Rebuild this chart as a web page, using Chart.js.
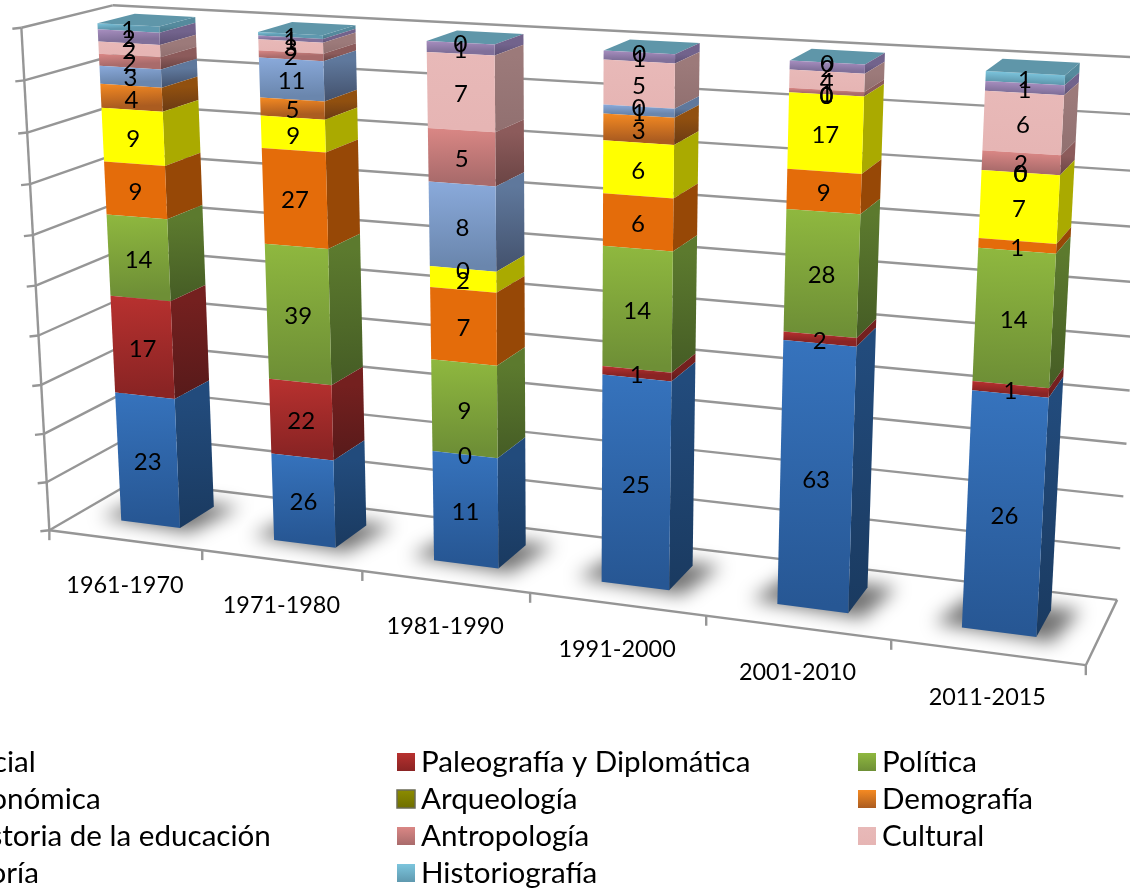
<!DOCTYPE html>
<html>
<head>
<meta charset="utf-8">
<title>Chart</title>
<script src="https://cdn.jsdelivr.net/npm/chart.js@4/dist/chart.umd.js"></script>
<style>
    html, body { margin: 0; padding: 0; background: #fff; overflow: hidden; }
    canvas { display: block; }
</style>
</head>
<body>
<canvas id="chart" width="1130" height="889"></canvas>
<script>
const categories = ['1961-1970', '1971-1980', '1981-1990', '1991-2000', '2001-2010', '2011-2015'];

const social = [23, 26, 11, 25, 63, 26];
const paleografia = [17, 22, 0, 1, 2, 1];
const politica = [14, 39, 9, 14, 28, 14];
const economica = [9, 27, 7, 6, 9, 1];
const arqueologia = [9, 9, 2, 6, 17, 7];
const demografia = [4, 5, 0, 3, 0, 0];
const educacion = [3, 11, 8, 1, 0, 0];
const antropologia = [2, 2, 5, 0, 1, 2];
const cultural = [2, 3, 7, 5, 4, 6];
const teoria = [2, 1, 1, 1, 2, 1];
const historiografia = [1, 1, 0, 0, 0, 1];

const seriesNames = ['Social', 'Paleografía y Diplomática', 'Política', 'Económica', 'Arqueología', 'Demografía',
    'Historia de la educación', 'Antropología', 'Cultural', 'Teoría', 'Historiografía'];
const seriesValues = [social, paleografia, politica, economica, arqueologia, demografia,
    educacion, antropologia, cultural, teoria, historiografia];

// [front top, front bottom, side top, side bottom]
const seriesColors = [
    ['#3673bd', '#275794', '#224b7c', '#1a3a60'],
    ['#b8312f', '#8a2424', '#74201f', '#571a1a'],
    ['#8fb83f', '#6e8f36', '#5c7a2e', '#455c25'],
    ['#e46c0a', '#e46c0a', '#974806', '#974806'],
    ['#ffff00', '#ffff00', '#aaaa00', '#aaaa00'],
    ['#f58a22', '#ab5c20', '#91500f', '#6a3a14'],
    ['#8aaadb', '#6a86ad', '#5f789c', '#43516c'],
    ['#da8785', '#a96b6b', '#8c5b5b', '#6a4444'],
    ['#e8b9b8', '#e6b5b4', '#9c7a7a', '#917070'],
    ['#a78ebf', '#80709a', '#72638c', '#5d5074'],
    ['#7cc5dd', '#5f99af', '#558a9d', '#467485']
];
const legendSwatches = [
    ['#3673bd', '#275794'], ['#b8312f', '#8a2424'], ['#8fb83f', '#6e8f36'], ['#e46c0a', '#e46c0a'],
    ['#8c8c00', '#6f6f00'], ['#f58a22', '#ab5c20'], ['#8aaadb', '#6a86ad'], ['#da8785', '#a96b6b'],
    ['#e8b9b8', '#e6b5b4'], ['#a78ebf', '#80709a'], ['#7cc5dd', '#5f99af']
];
const topFaceColor = '#5f96a9';
const gridColor = '#969696';

// picture position of the 3d box corners: [x, y, z, px, py], x along categories, y up, z towards the back wall
const boxCorners = [
    [0, 0, 0, 50, 530], [1, 0, 0, 1086, 666], [0, 1, 0, 21, 28], [1, 1, 0, 1118, 87],
    [0, 0, 1, 134, 481], [1, 0, 1, 1117, 599], [0, 1, 1, 113, 5], [1, 1, 1, 1150, 59]
];
const barFront = 0.3;
const barBack = 0.72;

function solveLinear(a, b) {
    const n = b.length;
    for (let i = 0; i < n; i++) {
        let best = i;
        for (let r = i + 1; r < n; r++) if (Math.abs(a[r][i]) > Math.abs(a[best][i])) best = r;
        [a[i], a[best]] = [a[best], a[i]];
        [b[i], b[best]] = [b[best], b[i]];
        for (let r = i + 1; r < n; r++) {
            const f = a[r][i] / a[i][i];
            for (let c = i; c < n; c++) a[r][c] -= f * a[i][c];
            b[r] -= f * b[i];
        }
    }
    const out = new Array(n).fill(0);
    for (let i = n - 1; i >= 0; i--) {
        let s = b[i];
        for (let c = i + 1; c < n; c++) s -= a[i][c] * out[c];
        out[i] = s / a[i][i];
    }
    return out;
}

function fitCamera(points) {
    const rows = [], rhs = [];
    points.forEach(([x, y, z, px, py]) => {
        const u = px / 1000, v = py / 1000;
        rows.push([x, y, z, 1, 0, 0, 0, 0, -u * x, -u * y, -u * z]); rhs.push(u);
        rows.push([0, 0, 0, 0, x, y, z, 1, -v * x, -v * y, -v * z]); rhs.push(v);
    });
    const ata = [], atb = [];
    for (let i = 0; i < 11; i++) {
        ata.push([]);
        atb.push(rows.reduce((s, r, k) => s + r[i] * rhs[k], 0));
        for (let j = 0; j < 11; j++) ata[i].push(rows.reduce((s, r) => s + r[i] * r[j], 0));
    }
    return solveLinear(ata, atb);
}

const cam = fitCamera(boxCorners);

function project(x, y, z) {
    const w = cam[8] * x + cam[9] * y + cam[10] * z + 1;
    return [
        1000 * (cam[0] * x + cam[1] * y + cam[2] * z + cam[3]) / w,
        1000 * (cam[4] * x + cam[5] * y + cam[6] * z + cam[7]) / w
    ];
}

function quad(ctx, pts) {
    ctx.beginPath();
    pts.forEach((p, i) => i ? ctx.lineTo(p[0], p[1]) : ctx.moveTo(p[0], p[1]));
    ctx.closePath();
}

function fillFace(ctx, pts, top, bottom) {
    const g = ctx.createLinearGradient(pts[0][0], pts[0][1], pts[3][0], pts[3][1]);
    g.addColorStop(0, top);
    g.addColorStop(1, bottom);
    quad(ctx, pts);
    ctx.fillStyle = g;
    ctx.fill();
}

function barBox(el, area) {
    return {
        x0: (el.x - el.width / 2 - area.left) / area.width,
        x1: (el.x + el.width / 2 - area.left) / area.width,
        y0: (area.bottom - el.base) / area.height,
        y1: (area.bottom - el.y) / area.height
    };
}

// every bar of the chart is drawn as a box in the projected space
Chart.BarElement.prototype.draw = function (ctx) {
    const b = barBox(this, this.plotArea);
    const c = seriesColors[this.seriesIndex];
    fillFace(ctx, [project(b.x1, b.y1, barFront), project(b.x1, b.y1, barBack),
        project(b.x1, b.y0, barBack), project(b.x1, b.y0, barFront)], c[2], c[3]);
    fillFace(ctx, [project(b.x0, b.y1, barFront), project(b.x1, b.y1, barFront),
        project(b.x1, b.y0, barFront), project(b.x0, b.y0, barFront)], c[0], c[1]);
    if (this.seriesIndex === seriesValues.length - 1) {
        quad(ctx, [project(b.x0, b.y1, barFront), project(b.x1, b.y1, barFront),
            project(b.x1, b.y1, barBack), project(b.x0, b.y1, barBack)]);
        ctx.fillStyle = topFaceColor;
        ctx.fill();
    }
};

function line(ctx, a, b) {
    ctx.beginPath();
    ctx.moveTo(a[0], a[1]);
    ctx.lineTo(b[0], b[1]);
    ctx.stroke();
}

const box3dPlugin = {
    id: 'box3d',
    beforeDatasetsDraw(chart) {
        const ctx = chart.ctx, area = chart.chartArea;
        chart.data.datasets.forEach((d, i) => {
            chart.getDatasetMeta(i).data.forEach(el => {
                el.seriesIndex = i;
                el.plotArea = area;
            });
        });

        ctx.save();
        ctx.strokeStyle = gridColor;
        ctx.lineWidth = 2.4;
        chart.scales.y.ticks.forEach(t => {
            const v = (area.bottom - chart.scales.y.getPixelForValue(t.value)) / area.height;
            const front = project(0, v, 0);
            line(ctx, [front[0] - 9, front[1] + 1], front);
            line(ctx, front, project(0, v, 1));
            line(ctx, project(0, v, 1), project(1, v, 1));
        });
        line(ctx, project(0, 0, 0), project(0, 1, 0));
        line(ctx, project(0, 0, 0), project(1, 0, 0));
        line(ctx, project(1, 0, 0), project(1, 0, 1));
        const band = area.width / categories.length;
        for (let i = 0; i <= categories.length; i++) {
            const p = project((chart.scales.x.getPixelForValue(0) - band / 2 + i * band - area.left) / area.width, 0, 0);
            line(ctx, p, [p[0], p[1] + 10]);
        }
        ctx.restore();

        // soft shadow on the floor
        ctx.save();
        ctx.filter = 'blur(9px)';
        ctx.fillStyle = 'rgba(0,0,0,0.55)';
        chart.getDatasetMeta(0).data.forEach(el => {
            const b = barBox(el, area);
            quad(ctx, [project(b.x0 - 0.025, 0, barFront + 0.02), project(b.x1 + 0.015, 0, barFront - 0.05),
                project(b.x1 + 0.025, 0, barBack + 0.05), project(b.x0 - 0.01, 0, barBack + 0.05)]);
            ctx.fill();
        });
        ctx.restore();
    },
    afterDatasetsDraw(chart) {
        const ctx = chart.ctx, area = chart.chartArea;
        ctx.save();
        ctx.fillStyle = '#000';
        ctx.textAlign = 'center';
        ctx.textBaseline = 'middle';
        ctx.font = '24px Lato';
        seriesValues.forEach((values, i) => {
            chart.getDatasetMeta(i).data.forEach((el, j) => {
                const b = barBox(el, area);
                const p = project((b.x0 + b.x1) / 2, (b.y0 + b.y1) / 2, barFront);
                ctx.fillText(String(values[j]), p[0], p[1] + 2);
            });
        });

        ctx.font = '23.4px Lato';
        categories.forEach((c, i) => {
            const p = project((chart.scales.x.getPixelForValue(i) - area.left) / area.width, 0, 0);
            ctx.fillText(c, p[0], p[1] + 45);
        });

        ctx.textAlign = 'left';
        ctx.font = '29.6px Lato';
        const columnX = [-64, 397, 858];
        const rowY = [762, 799, 836, 873];
        seriesNames.forEach((name, i) => {
            const x = columnX[i % 3], y = rowY[Math.floor(i / 3)];
            const g = ctx.createLinearGradient(0, y - 9, 0, y + 9);
            g.addColorStop(0, legendSwatches[i][0]);
            g.addColorStop(1, legendSwatches[i][1]);
            ctx.fillStyle = g;
            ctx.fillRect(x, y - 9, 18, 18);
            if (i === 4) {
                ctx.strokeStyle = '#6b6b55';
                ctx.lineWidth = 1.5;
                ctx.strokeRect(x, y - 9, 18, 18);
            }
            ctx.fillStyle = '#000';
            ctx.fillText(name, x + 24, y);
        });
        ctx.restore();
    }
};

const datasets = seriesNames.map((name, i) => ({
    label: name,
    data: seriesValues[i].map((v, j) => 100 * v / seriesValues.reduce((s, a) => s + a[j], 0)),
    backgroundColor: seriesColors[i][0],
    barPercentage: 0.39,
    categoryPercentage: 1
}));

new Chart(document.getElementById('chart'), {
    type: 'bar',
    data: { labels: categories, datasets: datasets },
    options: {
        responsive: false,
        animation: false,
        layout: { padding: 0 },
        plugins: { legend: { display: false }, tooltip: { enabled: false } },
        scales: {
            x: { stacked: true, display: false },
            y: { stacked: true, display: false, min: 0, max: 100, ticks: { stepSize: 10 } }
        }
    },
    plugins: [box3dPlugin]
});
</script>
</body>
</html>
